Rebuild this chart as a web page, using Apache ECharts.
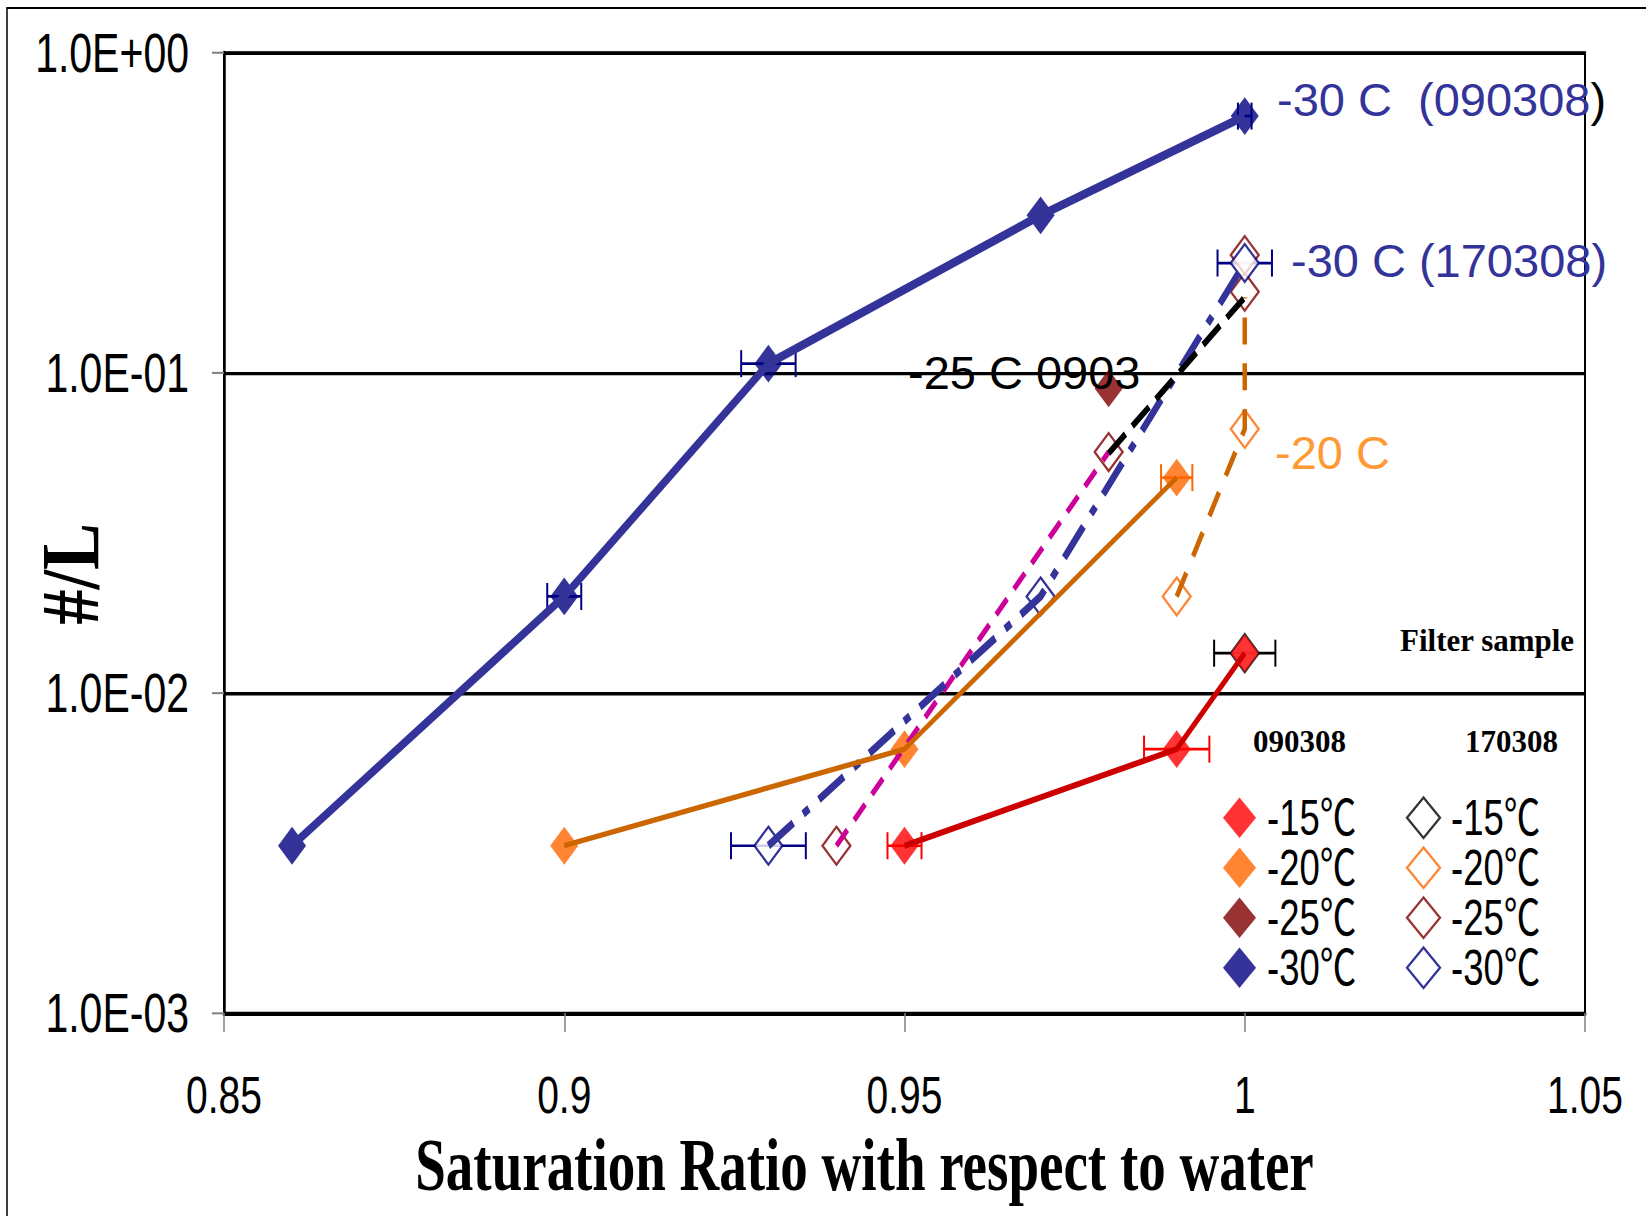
<!DOCTYPE html>
<html>
<head>
<meta charset="utf-8">
<script src="https://cdn.jsdelivr.net/npm/echarts@6/dist/echarts.min.js"></script>
<style>
  html, body { margin: 0; padding: 0; background: #fff; overflow: hidden; }
  #wrap { width: 1646px; height: 1216px; overflow: hidden; position: relative; }
  /* the figure is drawn at 900px high and stretched to the page height */
  #chart { width: 1646px; height: 900px; transform: scaleY(1.35111); transform-origin: 0 0; }
</style>
</head>
<body>
<div id="wrap"><div id="chart"></div></div>
<script>
// vertical stretch of the whole figure
const K = 1216 / 900;

// ---- axis tick labels ----
const xTickLabels = ['0.85', '0.9', '0.95', '1', '1.05'];
const yTickLabels = ['1.0E-03', '1.0E-02', '1.0E-01', '1.0E+00'];

// ---- 090308 runs (filled symbols) ----
const ratio15a = [0.95, 0.99, 1.00];
const conc15a  = [0.00333, 0.00667, 0.0133];
const err15a   = [0.0025, 0.0048, 0];

const ratio20a = [0.90, 0.95, 0.99];
const conc20a  = [0.00333, 0.00667, 0.0470];
const err20a   = [0, 0, 0.0023];

const ratio25a = [0.98];
const conc25a  = [0.0893];

const ratio30a = [0.86, 0.90, 0.93, 0.97, 1.00];
const conc30a  = [0.00333, 0.0200, 0.1067, 0.310, 0.633];
const err30a   = [0, 0.0025, 0.004, 0, 0.001];

// -25 C 0903 fit segment
const ratio25fit = [0.98, 1.00];
const conc25fit  = [0.056, 0.172];

// ---- 170308 runs (open symbols) ----
const ratio15b = [1.00];
const conc15b  = [0.0133];
const err15b   = [0.0045];

const ratio20b = [0.99, 1.00, 1.00];
const conc20b  = [0.0200, 0.0667, 0.172];

const ratio25b = [0.94, 0.98, 1.00, 1.00];
const conc25b  = [0.00333, 0.0565, 0.179, 0.233];

const ratio30b = [0.93, 0.97, 1.00];
const conc30b  = [0.00333, 0.0200, 0.220];
const err30b   = [0.0055, 0, 0.004];

const zip = (xs, ys) => xs.map((x, i) => [x, ys[i]]);

const SANS = '"Liberation Sans", Arial, "Noto Sans CJK JP", sans-serif';
const SERIF = '"Liberation Serif", "Times New Roman", serif';

function markers(name, xs, ys, color, open) {
  return {
    type: 'scatter', name, data: zip(xs, ys),
    symbol: 'diamond', symbolSize: 28,
    itemStyle: open ? { color: '#ffffff', borderColor: color, borderWidth: 2 } : { color },
    z: open ? 3 : 4, silent: true
  };
}

function connector(name, xs, ys, color, width, dash) {
  return {
    type: 'line', name, data: zip(xs, ys), symbol: 'none', showSymbol: false,
    lineStyle: { color, width, type: dash || 'solid', cap: 'butt' },
    z: 5, silent: true
  };
}

function errorBars(name, xs, ys, errs, color) {
  const data = xs.map((x, i) => [x, ys[i], errs[i]]).filter(d => d[2] > 0);
  return {
    type: 'custom', name, data, encode: { x: 0, y: 1 }, z: 2, silent: true,
    renderItem(params, api) {
      const x = api.value(0), y = api.value(1), e = api.value(2);
      const a = api.coord([x - e, y]);
      const b = api.coord([x + e, y]);
      const c = 10;
      const st = { stroke: color, lineWidth: 2 };
      return {
        type: 'group',
        children: [
          { type: 'line', shape: { x1: a[0], y1: a[1], x2: b[0], y2: b[1] }, style: st },
          { type: 'line', shape: { x1: a[0], y1: a[1] - c, x2: a[0], y2: a[1] + c }, style: st },
          { type: 'line', shape: { x1: b[0], y1: b[1] - c, x2: b[0], y2: b[1] + c }, style: st }
        ]
      };
    }
  };
}

// text that keeps its natural proportions inside the stretched figure
function plainText(text, x, yPage, font, fill, rich) {
  const t = {
    type: 'text', x, y: yPage / K, scaleY: 1 / K, z: 100, silent: true,
    style: { text, font, fill, align: 'left', verticalAlign: 'middle' }
  };
  if (rich) t.style.rich = rich;
  return t;
}

const filledNames = ['-15℃ 090308', '-20℃ 090308', '-25℃ 090308', '-30℃ 090308'];
const openNames   = ['-15℃ 170308', '-20℃ 170308', '-25℃ 170308', '-30℃ 170308'];

const legendBase = {
  orient: 'vertical', top: 587, padding: 0, itemWidth: 33, itemHeight: 30, itemGap: 0.5,
  selectedMode: false,
  formatter: n => n.split(' ')[0],
  textStyle: { fontFamily: SANS, fontSize: 36.5, color: '#000', padding: [0, 0, 0, 6] }
};

const chart = echarts.init(document.getElementById('chart'), null, { renderer: 'svg' });

chart.setOption({
  animation: false,
  backgroundColor: '#ffffff',
  grid: { left: 224, right: 61, top: 52.5 / K, bottom: 900 - 1013 / K,
          show: true, borderColor: '#000', borderWidth: 2, backgroundColor: 'transparent' },
  xAxis: {
    type: 'value', min: 0.85, max: 1.05, interval: 0.05,
    axisLine: { show: true, lineStyle: { color: '#000', width: 3 } },
    axisTick: { show: true, inside: false, length: 14, lineStyle: { color: '#808080', width: 1.5 } },
    splitLine: { show: false },
    axisLabel: {
      margin: 41, fontFamily: SANS, fontSize: 39, color: '#000',
      formatter: v => xTickLabels[Math.round((v - 0.85) / 0.05)]
    },
    name: 'Saturation Ratio with respect to water',
    nameLocation: 'middle', nameGap: 58,
    nameTextStyle: { fontFamily: SERIF, fontWeight: 'bold', fontSize: 55, color: '#000', padding: [0, 80, 0, 0] }
  },
  yAxis: {
    type: 'log', logBase: 10, min: 0.001, max: 1,
    axisLine: { show: true, lineStyle: { color: '#000', width: 2.5 } },
    axisTick: { show: true, inside: false, length: 12, lineStyle: { color: '#808080', width: 1.5 } },
    minorTick: { show: false },
    splitLine: { show: true, lineStyle: { color: '#000', width: 2.5 } },
    axisLabel: {
      margin: 35, fontFamily: SANS, fontSize: 41, color: '#000',
      formatter: v => yTickLabels[Math.round(Math.log10(v)) + 3]
    }
  },
  legend: [
    Object.assign({}, legendBase, { left: 1223, data: filledNames }),
    Object.assign({}, legendBase, { left: 1406, data: openNames })
  ],
  graphic: [
    { type: 'rect', shape: { x: 7, y: 8 / K, width: 1700, height: 1000 }, z: -10, silent: true,
      style: { fill: 'none', stroke: '#000', lineWidth: 1.5 } },
    { type: 'text', x: 70, y: 574 / K, rotation: Math.PI / 2, scaleY: 1.6, z: 100, silent: true,
      style: { text: '#/L', font: 'bold 52px ' + SERIF, fill: '#000', align: 'center', verticalAlign: 'middle' } },
    plainText('{a|-30 C \u00a0(090308}{b|)}', 1277, 100, '47px ' + SANS, '#333399',
      { a: { fill: '#333399', font: '47px ' + SANS }, b: { fill: '#000', font: '47px ' + SANS } }),
    plainText('-30 C (170308)', 1291, 261, '47px ' + SANS, '#333399'),
    plainText('-25 C 0903', 908, 373, '47px ' + SANS, '#000'),
    plainText('-20 C', 1275, 453, '47px ' + SANS, '#FF9933'),
    plainText('Filter sample', 1400, 641, 'bold 31px ' + SERIF, '#000'),
    plainText('090308', 1253, 742, 'bold 31px ' + SERIF, '#000'),
    plainText('170308', 1465, 742, 'bold 31px ' + SERIF, '#000')
  ],
  series: [
    // horizontal error bars
    errorBars('err -30 090308', ratio30a, conc30a, err30a, '#000080'),
    errorBars('err -30 170308', ratio30b, conc30b, err30b, '#000080'),
    errorBars('err -20 090308', ratio20a, conc20a, err20a, '#FF6600'),
    errorBars('err -15 090308', ratio15a, conc15a, err15a, '#FF0000'),
    errorBars('err -15 170308', ratio15b, conc15b, err15b, '#000000'),

    // open symbols (170308)
    markers('-15℃ 170308', ratio15b, conc15b, '#000000', true),
    markers('-20℃ 170308', ratio20b.slice(0, 2), conc20b.slice(0, 2), '#FF6600', true),
    markers('-25℃ 170308', ratio25b, conc25b, '#800000', true),
    markers('-30℃ 170308', ratio30b, conc30b, '#000080', true),

    // filled symbols (090308)
    markers('-15℃ 090308', ratio15a, conc15a, '#FF0000', false),
    markers('-20℃ 090308', ratio20a, conc20a, '#FF6600', false),
    markers('-25℃ 090308', ratio25a, conc25a, '#800000', false),
    markers('-30℃ 090308', ratio30a, conc30a, '#000080', false),

    // connecting lines
    connector('line -25 170308', ratio25b.slice(0, 2), conc25b.slice(0, 2), '#CC0099', 4.5, [16, 10]),
    connector('line -20 170308', ratio20b, conc20b, '#CC6600', 4.5, [20, 14]),
    connector('line -30 170308', ratio30b, conc30b, '#333399', 6, [30, 12, 7, 12]),
    connector('-25 C 0903', ratio25fit, conc25fit, '#000000', 5, [22, 9]),
    connector('line -20 090308', ratio20a, conc20a, '#CC6600', 4),
    connector('line -15 090308', ratio15a, conc15a, '#CC0000', 4.5),
    connector('line -30 090308', ratio30a, conc30a, '#333399', 6.5)
  ]
});
</script>
</body>
</html>
